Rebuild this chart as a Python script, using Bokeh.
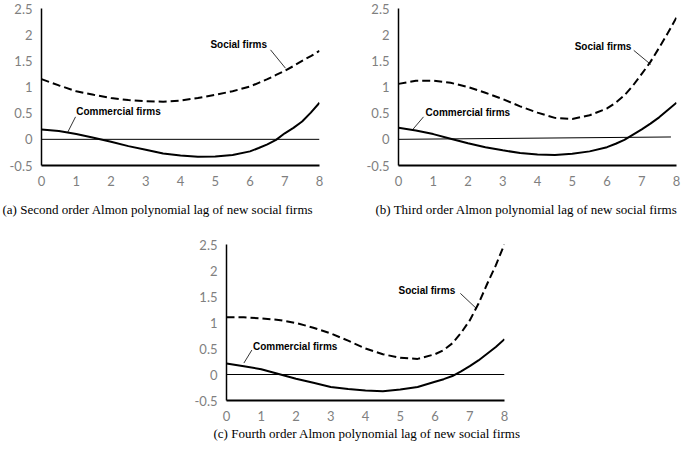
from bokeh.plotting import figure
from bokeh.models import Range1d, FixedTicker, Label, Spacer, Title
from bokeh.layouts import column, row
from bokeh.embed import file_html
from bokeh.resources import INLINE

# ---------------- data ----------------
lag = [0, 0.5, 1, 1.5, 2, 2.5, 3, 3.5, 4, 4.5, 5, 5.5, 6, 6.25, 6.5, 6.75, 7, 7.25,
       7.5, 7.75, 8]

a_commercial = [0.19, 0.16, 0.10, 0.03, -0.045, -0.13, -0.20, -0.27, -0.31, -0.335,
                -0.33, -0.30, -0.23, -0.165, -0.095, -0.01, 0.115, 0.22, 0.34, 0.51, 0.70]
a_social = [1.15, 1.03, 0.92, 0.85, 0.79, 0.75, 0.73, 0.72, 0.74, 0.79,
            0.85, 0.92, 1.01, 1.08, 1.15, 1.23, 1.31, 1.40, 1.50, 1.59, 1.69]

b_commercial = [0.22, 0.17, 0.10, 0.01, -0.075, -0.15, -0.21, -0.26, -0.29, -0.30,
                -0.275, -0.23, -0.15, -0.085, -0.01, 0.09, 0.19, 0.30, 0.42, 0.56, 0.70]
b_social = [1.06, 1.12, 1.12, 1.08, 1.00, 0.89, 0.77, 0.63, 0.51, 0.41,
            0.39, 0.46, 0.59, 0.70, 0.84, 1.03, 1.25, 1.48, 1.75, 2.03, 2.33]

c_commercial = [0.21, 0.16, 0.10, 0.01, -0.08, -0.16, -0.24, -0.28, -0.31, -0.32,
                -0.29, -0.24, -0.14, -0.09, -0.03, 0.06, 0.16, 0.27, 0.40, 0.53, 0.68]
c_social = [1.10, 1.10, 1.08, 1.05, 0.99, 0.90, 0.79, 0.65, 0.50, 0.39,
            0.32, 0.30, 0.39, 0.47, 0.60, 0.80, 1.04, 1.36, 1.74, 2.10, 2.51]

ref_x_a = [0, 8]
ref_y_a = [0, 0]
ref_x_b = [0, 7.84]
ref_y_b = [0, 0.045]
ref_x_c = [0, 8]
ref_y_c = [0, 0]

x_ticks = [0, 1, 2, 3, 4, 5, 6, 7, 8]
x_tick_labels = ["0", "1", "2", "3", "4", "5", "6", "7", "8"]
y_ticks = [-0.5, 0, 0.5, 1, 1.5, 2, 2.5]
y_tick_labels = ["-0.5", "0", "0.5", "1", "1.5", "2", "2.5"]

social_label = "Social firms"
commercial_label = "Commercial firms"
caption_a = "(a) Second order Almon polynomial lag of new social firms"
caption_b = "(b) Third order Almon polynomial lag of new social firms"
caption_c = "(c) Fourth order Almon polynomial lag of new social firms"

SANS_TICK = "Lato"
SERIF = "Liberation Serif"
BOLD_SANS = "Liberation Sans"


def make_panel(width, height, left, right, top, bottom, commercial, social, rx, ry,
               soc_pos, soc_lead, com_pos, com_lead, cap, cap_offset, cap_standoff):
    p = figure(width=width, height=height, output_backend="svg", toolbar_location=None,
               x_range=Range1d(0, 8), y_range=Range1d(-0.5, 2.5),
               min_border_left=left, min_border_right=right,
               min_border_top=top, min_border_bottom=bottom)
    p.grid.visible = False
    p.outline_line_color = None
    p.background_fill_color = "white"
    p.border_fill_color = "white"

    p.xaxis.ticker = FixedTicker(ticks=x_ticks)
    p.xaxis.major_label_overrides = {t: l for t, l in zip(x_ticks, x_tick_labels)}
    p.yaxis.ticker = FixedTicker(ticks=y_ticks)
    p.yaxis.major_label_overrides = {t: l for t, l in zip(y_ticks, y_tick_labels)}
    for ax in (p.xaxis, p.yaxis):
        ax.axis_line_color = "black"
        ax.major_tick_in = 0
        ax.major_tick_out = 0
        ax.minor_tick_in = 0
        ax.minor_tick_out = 0
        ax.major_label_text_font = SANS_TICK
        ax.major_label_text_font_size = "13px"
        ax.major_label_text_color = "#7f7f7f"
    p.xaxis.axis_line_width = 2
    p.yaxis.axis_line_width = 1.5
    p.xaxis.major_label_standoff = 10
    p.yaxis.major_label_standoff = 9

    p.line(rx, ry, line_color="black", line_width=1)
    p.line(lag, commercial, line_color="black", line_width=2, line_join="round")
    p.line(lag, social, line_color="black", line_width=2, line_dash="8 4",
           line_join="round")

    p.add_layout(Label(x=soc_pos[0], y=soc_pos[1], text=social_label,
                       text_font=BOLD_SANS, text_font_style="bold",
                       text_font_size="10px", text_baseline="middle",
                       text_align="left", text_color="black"))
    p.add_layout(Label(x=com_pos[0], y=com_pos[1], text=commercial_label,
                       text_font=BOLD_SANS, text_font_style="bold",
                       text_font_size="10px", text_baseline="middle",
                       text_align="left", text_color="black"))
    p.segment(x0=[soc_lead[0], com_lead[0]], y0=[soc_lead[1], com_lead[1]],
              x1=[soc_lead[2], com_lead[2]], y1=[soc_lead[3], com_lead[3]],
              line_color="black", line_width=0.8)

    p.add_layout(Title(text=cap, align="left", offset=cap_offset, standoff=cap_standoff,
                       text_font=SERIF, text_font_size="13px",
                       text_font_style="normal", text_color="black"), "below")
    return p


pa = make_panel(340, 229, 41, 21, 8, 64, a_commercial, a_social, ref_x_a, ref_y_a,
                (4.86, 1.81), (6.59, 1.71, 7.02, 1.36),
                (1.0, 0.53), (0.98, 0.43, 0.75, 0.13),
                caption_a, -39, 22)

pb = make_panel(345, 229, 58, 9, 4, 64, b_commercial, b_social, ref_x_b, ref_y_b,
                (5.07, 1.78), (6.77, 1.70, 7.26, 1.43),
                (0.78, 0.52), (0.72, 0.43, 0.40, 0.18),
                caption_b, -23, 22)

pc = make_panel(340, 221, 46, 16, 15, 50, c_commercial, c_social, ref_x_c, ref_y_c,
                (4.95, 1.62), (6.73, 1.56, 7.19, 1.27),
                (0.76, 0.54), (0.73, 0.47, 0.50, 0.22),
                caption_c, -13, 0)

layout = column(row(pa, pb), row(Spacer(width=180, height=221), pc))

open("out.html", "w").write(file_html(layout, INLINE))
